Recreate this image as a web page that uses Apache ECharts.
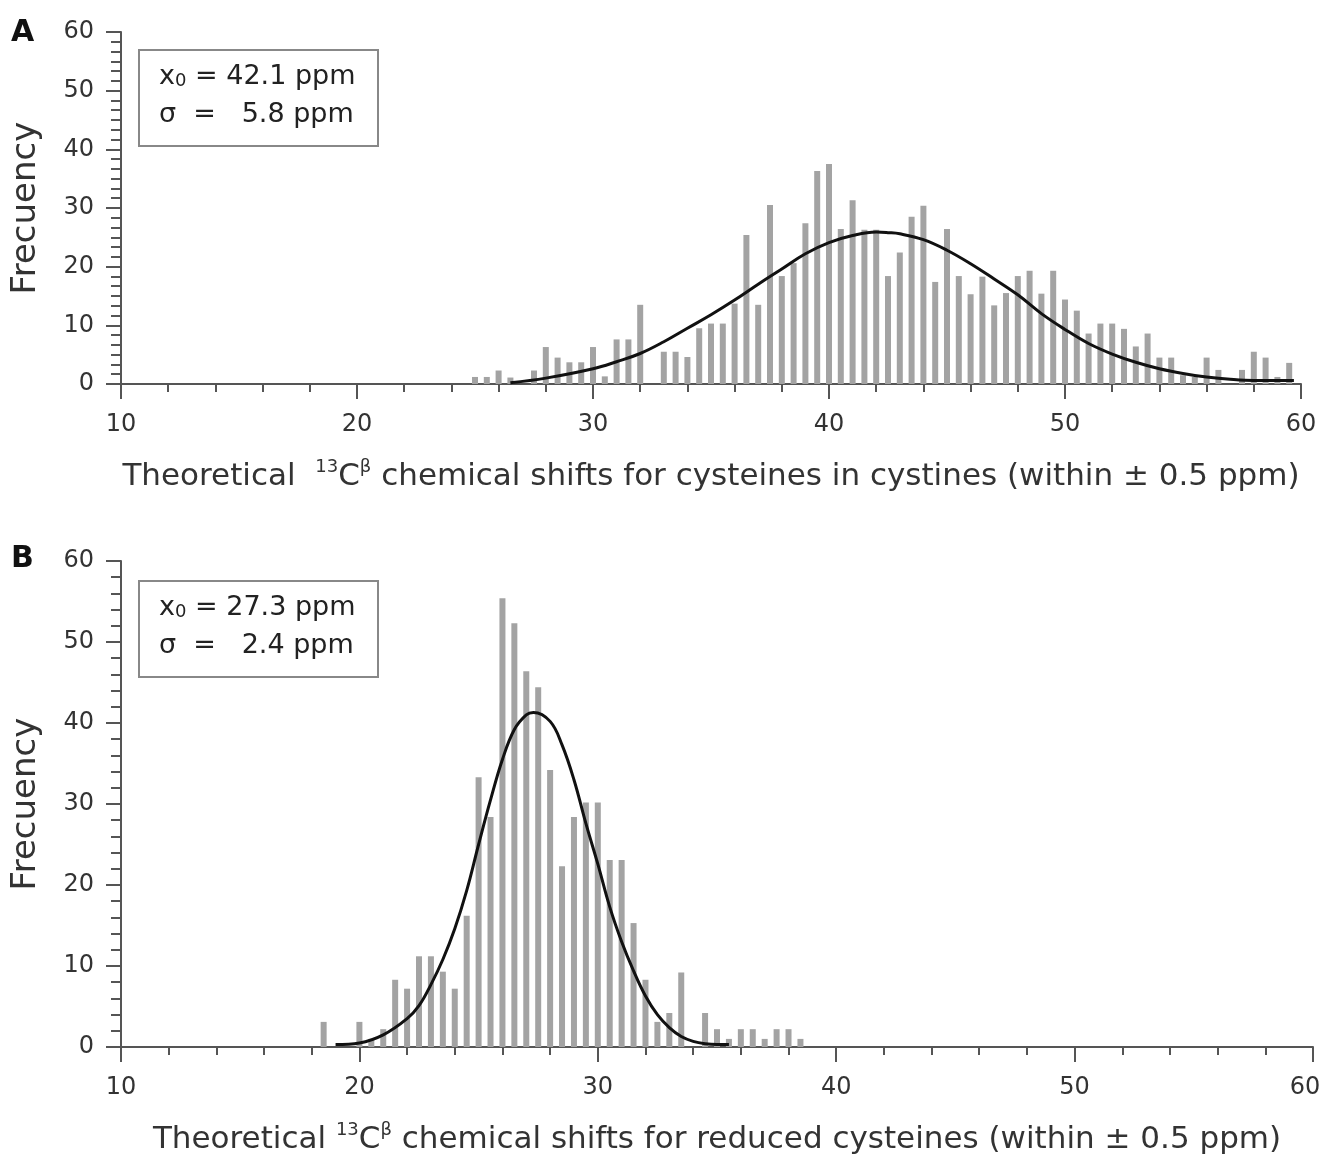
<!DOCTYPE html>
<html>
<head>
<meta charset="utf-8">
<script src="https://cdn.jsdelivr.net/npm/echarts@6/dist/echarts.min.js"></script>
<style>
  html, body { margin: 0; padding: 0; background: #fff; }
  #main { width: 1324px; height: 1155px; }
</style>
</head>
<body>
<div id="main"></div>
<script>
// Panel A: cysteines in cystines (bin centre, frequency)
var binsA = [25.0, 25.5, 26.0, 26.5, 27.5, 28.0, 28.5, 29.0, 29.5, 30.0, 30.5, 31.0, 31.5, 32.0,
  33.0, 33.5, 34.0, 34.5, 35.0, 35.5, 36.0, 36.5, 37.0, 37.5, 38.0, 38.5, 39.0, 39.5, 40.0,
  40.5, 41.0, 41.5, 42.0, 42.5, 43.0, 43.5, 44.0, 44.5, 45.0, 45.5, 46.0, 46.5, 47.0, 47.5,
  48.0, 48.5, 49.0, 49.5, 50.0, 50.5, 51.0, 51.5, 52.0, 52.5, 53.0, 53.5, 54.0, 54.5, 55.0,
  55.5, 56.0, 56.5, 57.5, 58.0, 58.5, 59.0, 59.5];
var freqA = [1.2, 1.2, 2.3, 1.1, 2.3, 6.3, 4.5, 3.7, 3.7, 6.3, 1.3, 7.6, 7.6, 13.5,
  5.5, 5.5, 4.6, 9.5, 10.3, 10.3, 13.7, 25.4, 13.5, 30.5, 18.4, 20.6, 27.4, 36.3, 37.5,
  26.4, 31.3, 26.3, 26.3, 18.4, 22.4, 28.5, 30.4, 17.4, 26.4, 18.4, 15.3, 18.3, 13.4, 15.5,
  18.4, 19.3, 15.4, 19.3, 14.4, 12.5, 8.6, 10.3, 10.3, 9.4, 6.4, 8.6, 4.5, 4.5, 1.5,
  1.2, 4.5, 2.4, 2.4, 5.5, 4.5, 1.2, 3.6];
// fitted curve A
var fitXA = [26.5, 28, 30, 31, 32, 33, 34, 35, 36, 37, 38, 39, 40, 41, 42, 42.5, 43, 44, 45, 46,
  47, 48, 49, 50, 51, 52, 53, 54, 55, 56, 57, 58, 59, 59.7];
var fitYA = [0.2, 1.0, 2.6, 3.8, 5.2, 7.2, 9.5, 11.8, 14.3, 17.0, 19.6, 22.2, 24.1, 25.3, 25.9, 25.8,
  25.6, 24.6, 22.8, 20.5, 17.9, 15.2, 12.0, 9.3, 6.9, 5.1, 3.7, 2.6, 1.8, 1.2, 0.8, 0.6, 0.6, 0.6];

// Panel B: reduced cysteines
var binsB = [18.5, 20.0, 20.5, 21.0, 21.5, 22.0, 22.5, 23.0, 23.5, 24.0, 24.5, 25.0, 25.5,
  26.0, 26.5, 27.0, 27.5, 28.0, 28.5, 29.0, 29.5, 30.0, 30.5, 31.0, 31.5, 32.0, 32.5, 33.0,
  33.5, 34.5, 35.0, 35.5, 36.0, 36.5, 37.0, 37.5, 38.0, 38.5];
var freqB = [3.1, 3.1, 1.0, 2.2, 8.3, 7.2, 11.2, 11.2, 9.3, 7.2, 16.2, 33.3, 28.4,
  55.4, 52.3, 46.4, 44.4, 34.2, 22.3, 28.4, 30.2, 30.2, 23.1, 23.1, 15.3, 8.3, 3.1, 4.2,
  9.2, 4.2, 2.2, 1.0, 2.2, 2.2, 1.0, 2.2, 2.2, 1.0];
var fitXB = [19.0, 20.0, 21.0, 22.0, 22.5, 23.0, 23.5, 24.0, 24.5, 25.0, 25.5, 26.0, 26.5,
  27.0, 27.3, 28.0, 28.5, 29.0, 29.5, 30.0, 30.5, 31.0, 31.5, 32.0, 32.5, 33.0, 33.5, 34.0,
  34.5, 35.0, 35.5];
var fitYB = [0.3, 0.5, 1.5, 3.5, 5.1, 7.7, 10.8, 14.6, 19.3, 25.0, 30.5, 35.5, 39.2,
  41.0, 41.3, 40.2, 37.3, 33.0, 27.6, 22.6, 17.3, 13.0, 9.4, 6.3, 4.0, 2.4, 1.3, 0.7,
  0.4, 0.3, 0.3];

var nameA = 'Theoretical  {sup|13}C{sup|β} chemical shifts for cysteines in cystines (within ± 0.5 ppm)';
var nameB = 'Theoretical {sup|13}C{sup|β} chemical shifts for reduced cysteines (within ± 0.5 ppm)';

function pairs(xs, ys) {
  return xs.map(function (x, i) { return [x, ys[i]]; });
}

var font = 'DejaVu Sans';
var axisColor = '#555';
var textColor = '#333';

function xAxisFor(idx, name, lastPad) {
  return {
    type: 'value', gridIndex: idx, min: 10, max: 60, interval: 10,
    name: name, nameLocation: 'middle', nameGap: 74,
    nameTextStyle: {
      fontFamily: font, fontSize: 31, color: textColor, lineHeight: 38,
      rich: { sup: { fontSize: 18, verticalAlign: 'top', lineHeight: 38, fontFamily: font, color: textColor } }
    },
    axisLine: { lineStyle: { color: axisColor, width: 2 } },
    axisTick: { length: 15, lineStyle: { color: axisColor, width: 2 } },
    minorTick: { show: true, splitNumber: 5, length: 8, lineStyle: { color: axisColor, width: 2 } },
    axisLabel: {
      margin: 29, fontFamily: font, fontSize: 24, color: textColor,
      formatter: function (v) { return v === 60 ? '{last|60}' : String(v); },
      rich: { last: { fontFamily: font, fontSize: 24, color: textColor, padding: [0, lastPad, 0, 0] } }
    },
    splitLine: { show: false }
  };
}

function yAxisFor(idx, minorSplit) {
  return {
    type: 'value', gridIndex: idx, min: 0, max: 60, interval: 10,
    name: 'Frecuency', nameLocation: 'middle', nameGap: 78,
    nameTextStyle: { fontFamily: font, fontSize: 34, color: textColor },
    axisLine: { show: true, lineStyle: { color: axisColor, width: 2 } },
    axisTick: { show: true, length: 15, lineStyle: { color: axisColor, width: 2 } },
    minorTick: { show: true, splitNumber: minorSplit, length: 10, lineStyle: { color: axisColor, width: 2 } },
    axisLabel: { margin: 27, fontFamily: font, fontSize: 24, color: textColor },
    splitLine: { show: false }
  };
}

function boxFor(top, line1, line2) {
  var txt = { font: '27px "DejaVu Sans"', fill: '#222',
    rich: { sub: { fontSize: 18, verticalAlign: 'bottom', fontFamily: font, fill: '#222' } } };
  return {
    type: 'group', left: 138, top: top,
    children: [
      { type: 'rect', shape: { x: 0, y: 0, width: 239, height: 96 },
        style: { fill: '#fff', stroke: '#888', lineWidth: 2 } },
      { type: 'text', x: 20, y: 13, style: Object.assign({ text: line1 }, txt) },
      { type: 'text', x: 20, y: 51, style: Object.assign({ text: line2 }, txt) }
    ]
  };
}

var myChart = echarts.init(document.getElementById('main'));

var option = {
  animation: false,
  backgroundColor: '#fff',
  grid: [
    { left: 121, top: 32, width: 1180, height: 352, outerBoundsMode: 'none' },
    { left: 121, top: 561, width: 1192, height: 486, outerBoundsMode: 'none' }
  ],
  xAxis: [xAxisFor(0, nameA, 0), xAxisFor(1, nameB, 16)],
  yAxis: [yAxisFor(0, 6), yAxisFor(1, 5)],
  graphic: [
    { type: 'text', left: 11, top: 18, style: { text: 'A', font: 'bold 30px "DejaVu Sans"', fill: '#111' } },
    { type: 'text', left: 11, top: 544, style: { text: 'B', font: 'bold 30px "DejaVu Sans"', fill: '#111' } },
    boxFor(49, 'x{sub|0} = 42.1 ppm', '\u03c3  =   5.8 ppm'),
    boxFor(580, 'x{sub|0} = 27.3 ppm', '\u03c3  =   2.4 ppm')
  ],
  series: [
    {
      type: 'bar', xAxisIndex: 0, yAxisIndex: 0, barWidth: 6,
      itemStyle: { color: '#a3a3a3' },
      data: pairs(binsA, freqA)
    },
    {
      type: 'line', xAxisIndex: 0, yAxisIndex: 0, smooth: 0.4, showSymbol: false,
      lineStyle: { color: '#111', width: 3 },
      data: pairs(fitXA, fitYA)
    },
    {
      type: 'bar', xAxisIndex: 1, yAxisIndex: 1, barWidth: 6,
      itemStyle: { color: '#a3a3a3' },
      data: pairs(binsB, freqB)
    },
    {
      type: 'line', xAxisIndex: 1, yAxisIndex: 1, smooth: 0.4, showSymbol: false,
      lineStyle: { color: '#111', width: 3 },
      data: pairs(fitXB, fitYB)
    }
  ]
};

myChart.setOption(option);
</script>
</body>
</html>
